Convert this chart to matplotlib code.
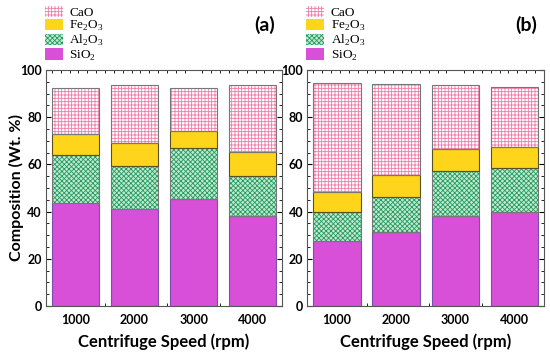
import matplotlib
matplotlib.use("Agg")
import matplotlib.pyplot as plt
from matplotlib.patches import Patch
from matplotlib.ticker import MultipleLocator
import numpy as np

speeds = ["1000", "2000", "3000", "4000"]
components = ["SiO$_2$", "Al$_2$O$_3$", "Fe$_2$O$_3$", "CaO"]

# panel (a)
sio2_a = [43.5, 41.1, 45.3, 38.1]
al2o3_a = [20.5, 18.4, 21.5, 17.0]
fe2o3_a = [8.7, 9.7, 7.5, 10.0]
cao_a = [19.5, 24.4, 17.9, 28.5]

# panel (b)
sio2_b = [27.6, 31.5, 38.3, 40.0]
al2o3_b = [12.4, 14.8, 18.9, 18.3]
fe2o3_b = [8.4, 9.3, 9.2, 9.1]
cao_b = [46.2, 38.3, 27.2, 25.5]

plt.rcParams['hatch.linewidth'] = 0.6
plt.rcParams['mathtext.fontset'] = 'custom'
plt.rcParams['mathtext.rm'] = 'Liberation Serif'

# face, hatch, hatch colour, outline
styles = [
    ("#d84fd8", None, "#d84fd8", "#7a4fb0"),
    ("#bfead2", "xxxxxxx", "#259a5c", "#777777"),
    ("#ffd51c", None, "#ffd51c", "#5a5020"),
    ("white", "+++++", "#f07aa8", "#777777"),
]

fig = plt.figure(figsize=(5.5, 3.53), dpi=100)
ax_a = fig.add_axes([0.0836, 0.133, 0.4294, 0.669])
ax_b = fig.add_axes([0.559, 0.133, 0.430, 0.669])

x = np.arange(1, 5)
w = 0.8

for ax, data, tag in [(ax_a, [sio2_a, al2o3_a, fe2o3_a, cao_a], "(a)"),
                      (ax_b, [sio2_b, al2o3_b, fe2o3_b, cao_b], "(b)")]:
    bottom = np.zeros(4)
    for vals, (fc, hatch, hc, ec) in zip(data, styles):
        vals = np.array(vals)
        ax.bar(x, vals, w, bottom=bottom, color=fc, hatch=hatch,
               edgecolor=hc, linewidth=0, zorder=2)
        ax.bar(x, vals, w, bottom=bottom, fill=False, edgecolor=ec,
               linewidth=0.8, zorder=3)
        bottom += vals
    ax.set_xlim(0.5, 4.5)
    ax.set_ylim(0, 100)
    ax.set_xticks(x)
    ax.set_xticklabels(speeds)
    ax.yaxis.set_major_locator(MultipleLocator(20))
    ax.yaxis.set_minor_locator(MultipleLocator(5))
    ax.xaxis.set_minor_locator(MultipleLocator(0.15))
    ax.tick_params(which='both', direction='in', top=True, right=True)
    ax.tick_params(which='major', length=3.5, width=0.8, labelsize=9)
    ax.tick_params(which='minor', length=2, width=0.6)
    ax.tick_params(axis='x', which='major', length=0, pad=6)
    ax.tick_params(axis='y', which='major', pad=3)
    for lab in ax.get_xticklabels() + ax.get_yticklabels():
        lab.set_fontweight('bold')
        lab.set_family('Lato')
    for s in ax.spines.values():
        s.set_color('#555555')
        s.set_linewidth(0.8)
    ax.set_xlabel("Centrifuge Speed (rpm)", fontsize=12, fontweight='bold',
                  family='Lato', labelpad=5)
    ax.text(0.925, 1.19, tag, transform=ax.transAxes, fontsize=14,
            fontweight='bold', family='Lato', ha='center', va='center')
    handles = [Patch(facecolor=fc, hatch=hatch, edgecolor=hc, linewidth=0)
               for (fc, hatch, hc, ec) in styles][::-1]
    ax.legend(handles, components[::-1], loc='lower left',
              bbox_to_anchor=(-0.01, 1.025), frameon=False,
              prop={'family': 'Liberation Serif', 'size': 9.5},
              handlelength=1.35, handleheight=0.95, labelspacing=0.0,
              handletextpad=0.5, borderaxespad=0.0, borderpad=0.1)

ax_a.set_ylabel("Composition (Wt. %)", fontsize=11.5, fontweight='bold',
                family='Lato')
ax_a.yaxis.set_label_coords(-0.095, 0.5)

fig.savefig("out.png", dpi=100)
